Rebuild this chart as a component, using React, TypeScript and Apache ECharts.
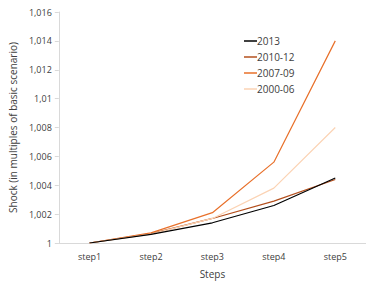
import React, { useEffect, useRef } from "react";
import * as echarts from "echarts";

const categories = ["step1", "step2", "step3", "step4", "step5"];
const seriesNames = ["2013", "2010-12", "2007-09", "2000-06"];
const s2013 = [1.0, 1.0006, 1.0014, 1.0026, 1.0045];
const s2010 = [1.0, 1.00065, 1.0017, 1.0029, 1.0044];
const s2007 = [1.0, 1.0007, 1.0021, 1.0056, 1.014];
const s2000 = [1.0, 1.00062, 1.0017, 1.0038, 1.008];
const colors = ["#000000", "#b4501e", "#e8702a", "#fbd3b4"];

export default function App() {
  const ref = useRef<HTMLDivElement>(null);
  useEffect(() => {
    const chart = echarts.init(ref.current!, null, { renderer: "svg" });
    const data = [s2013, s2010, s2007, s2000];
    chart.setOption({
      animation: false,
      textStyle: { fontFamily: "Open Sans" },
      grid: { left: 55, top: 12, width: 319, height: 232 },
      legend: {
        orient: "vertical",
        left: 239,
        top: 31,
        itemWidth: 13,
        itemHeight: 1.5,
        itemGap: 6,
        icon: "rect",
        textStyle: { fontSize: 10, color: "#404040", padding: [0, 0, 0, -5] },
        data: seriesNames,
      },
      xAxis: {
        type: "category",
        data: categories,
        boundaryGap: true,
        name: "Steps",
        nameLocation: "middle",
        nameGap: 26,
        nameTextStyle: { fontSize: 10, color: "#404040" },
        axisLine: { lineStyle: { color: "#d9d9d9", width: 1 } },
        axisTick: { show: false },
        axisLabel: { fontSize: 9, color: "#404040", margin: 9 },
      },
      yAxis: {
        type: "value",
        min: 1,
        max: 1.016,
        interval: 0.002,
        name: "Shock (in multiples of basic scenario)",
        nameLocation: "middle",
        nameGap: 38,
        nameTextStyle: { fontSize: 10, color: "#404040" },
        axisLine: { show: true, lineStyle: { color: "#d9d9d9", width: 1 } },
        axisTick: { show: true, length: 4, lineStyle: { color: "#d9d9d9" } },
        splitLine: { show: false },
        axisLabel: {
          fontSize: 9,
          color: "#404040",
          margin: 7,
          formatter: (v: number) => String(parseFloat(v.toFixed(3))).replace(".", ","),
        },
      },
      series: seriesNames.map((n, i) => ({
        name: n,
        type: "line",
        data: data[i],
        symbol: "none",
        lineStyle: { color: colors[i], width: 1.2 },
        itemStyle: { color: colors[i] },
        z: i === 0 ? 5 : 2,
      })),
    });
    return () => chart.dispose();
  }, []);
  return (
    <div
      ref={ref}
      style={{ position: "absolute", left: 0, top: 0, width: 366, height: 284, overflow: "hidden" }}
    />
  );
}
